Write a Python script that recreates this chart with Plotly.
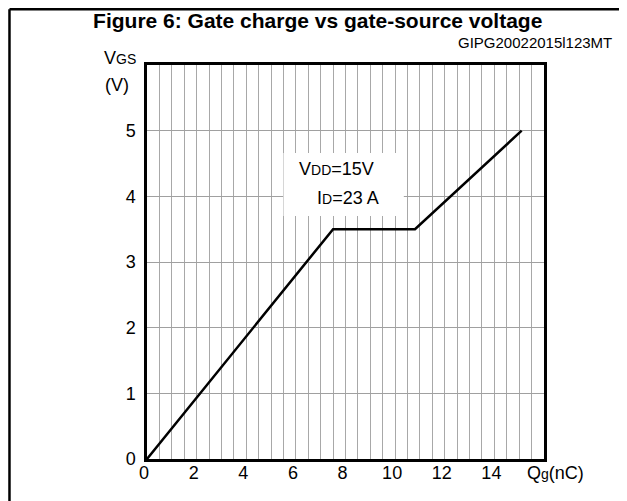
import plotly.graph_objects as go

# Data
qg_nc = [0, 7.5, 10.8, 15.1]
vgs_v = [0, 3.5, 3.5, 5.0]

x_tick_vals = [0, 2, 4, 6, 8, 10, 12, 14]
x_tick_text = ["0", "2", "4", "6", "8", "10", "12", "14"]
y_tick_vals = [0, 1, 2, 3, 4, 5]
y_tick_text = ["0", "1", "2", "3", "4", "5"]

FONT = "Liberation Sans, Arial, Helvetica, sans-serif"

fig = go.Figure()
fig.add_trace(go.Scatter(x=qg_nc, y=vgs_v, mode="lines",
                         line=dict(color="black", width=2.5),
                         hoverinfo="skip", showlegend=False))

fig.update_layout(
    width=627, height=501,
    margin=dict(l=139, r=91, t=57, b=50),
    paper_bgcolor="white", plot_bgcolor="white",
    font=dict(family=FONT, color="black", size=18),
    title=dict(text="<b>Figure 6: Gate charge vs gate-source voltage</b>",
               x=0.494, xanchor="center", y=0.974, yanchor="middle",
               font=dict(family=FONT, size=21, color="black")),
    showlegend=False,
)

fig.update_xaxes(range=[0, 16], tickvals=x_tick_vals, ticktext=x_tick_text,
                 showgrid=True, gridcolor="#a8a8a8", gridwidth=1.2,
                 minor=dict(dtick=0.5, tick0=0, showgrid=True, gridcolor="#a8a8a8", gridwidth=1.2),
                 showline=True, linecolor="black", linewidth=2.5, mirror=True,
                 zeroline=False, ticks="", tickfont=dict(size=18),
                 ticklabelshift=-3, ticklabelstandoff=-4)
fig.update_yaxes(range=[0, 6], tickvals=y_tick_vals, ticktext=y_tick_text,
                 showgrid=True, gridcolor="#a0a0a0", gridwidth=1.2,
                 showline=True, linecolor="black", linewidth=2.5, mirror=True,
                 zeroline=False, ticks="", tickfont=dict(size=18),
                 ticklabelstandoff=5)

# white box behind the conditions text
fig.add_shape(type="rect", xref="x", yref="y", x0=5.5, x1=10.35, y0=3.7, y1=4.66,
              fillcolor="white", line=dict(width=0), layer="above")

fig.add_annotation(xref="x", yref="y", x=7.62, y=4.41, showarrow=False,
                   xanchor="center", yanchor="middle",
                   text='V<span style="font-size:14px">DD</span>=15V',
                   font=dict(size=18))
fig.add_annotation(xref="x", yref="y", x=8.1, y=3.98, showarrow=False,
                   xanchor="center", yanchor="middle",
                   text='I<span style="font-size:14px">D</span>=23 A',
                   font=dict(size=18))

# axis labels
fig.add_annotation(xref="paper", yref="paper", x=-0.068, y=1.018, showarrow=False,
                   xanchor="center", yanchor="middle",
                   text='V<span style="font-size:14px">GS</span>', font=dict(size=18))
fig.add_annotation(xref="paper", yref="paper", x=-0.0756, y=0.949, showarrow=False,
                   xanchor="center", yanchor="middle",
                   text='(V)', font=dict(size=18))
fig.add_annotation(xref="paper", yref="paper", x=0.952, y=-0.036, xanchor="left",
                   yanchor="middle", showarrow=False,
                   text='Q<span style="font-size:14px">g</span>(nC)', font=dict(size=18))
fig.add_annotation(xref="paper", yref="paper", x=1.176, y=1.058, xanchor="right",
                   yanchor="middle", showarrow=False,
                   text='GIPG20022015l123MT', font=dict(size=15))

# outer figure frame (left and top edges)
fig.add_shape(type="line", xref="paper", yref="paper", x0=-0.3464, x1=-0.3464,
              y0=1.1415, y1=-0.2, line=dict(color="black", width=2.5))
fig.add_shape(type="line", xref="paper", yref="paper", x0=-0.3464, x1=1.3,
              y0=1.1415, y1=1.1415, line=dict(color="black", width=2.5))

fig.write_html("out.html")
